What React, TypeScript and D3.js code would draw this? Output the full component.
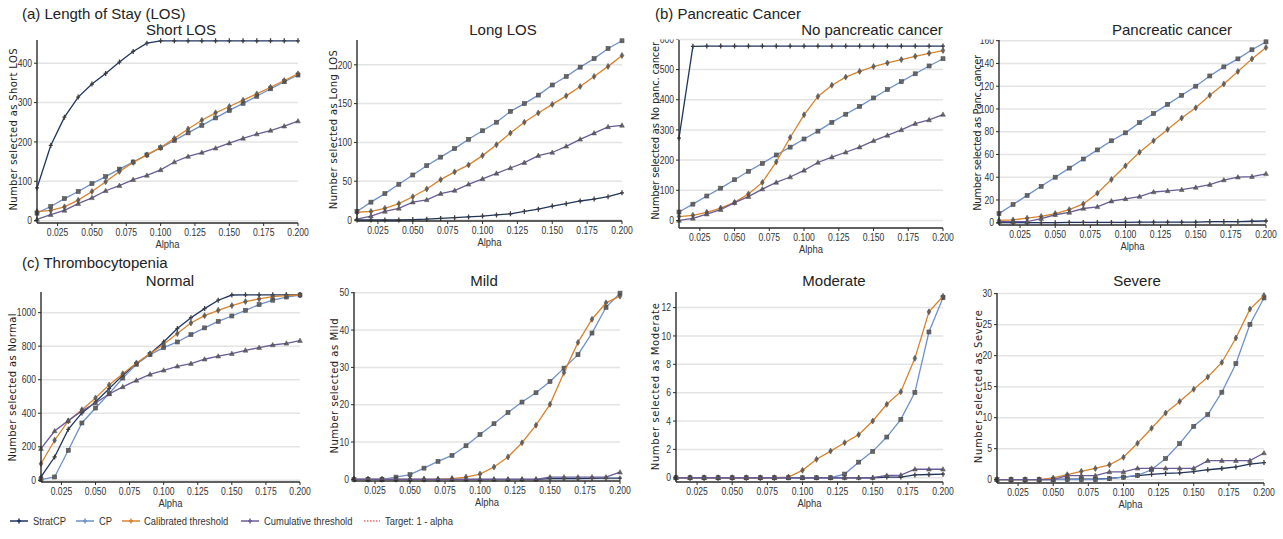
import React from 'react';
import * as d3 from 'd3';

const ALPHA = [0.01, 0.02, 0.03, 0.04, 0.05, 0.06, 0.07, 0.08, 0.09, 0.1, 0.11, 0.12, 0.13, 0.14, 0.15, 0.16, 0.17, 0.18, 0.19, 0.2];
const X_TICKS = [0.025, 0.05, 0.075, 0.1, 0.125, 0.15, 0.175, 0.2];

const SERIES_NAMES = ['StratCP', 'CP', 'Calibrated threshold', 'Cumulative threshold'];
const TARGET_NAME = 'Target: 1 - alpha';

// (a) Length of Stay
const SHORT_STRATCP = [83, 191, 263, 314, 347, 374, 403, 430, 451, 457, 457, 457, 457, 457, 457, 457, 457, 457, 457, 457];
const SHORT_CP = [19, 36, 56, 74, 94, 112, 131, 149, 167, 185, 204, 223, 242, 261, 280, 298, 316, 335, 353, 370];
const SHORT_CAL = [23, 26, 35, 52, 74, 99, 125, 148, 167, 186, 209, 233, 255, 274, 290, 306, 322, 339, 356, 373];
const SHORT_CUM = [3, 15, 26, 43, 58, 76, 89, 104, 115, 129, 149, 163, 173, 184, 197, 209, 220, 229, 240, 253];

const LONG_STRATCP = [0, 0, 0, 0, 0.5, 1, 2, 3, 4, 5, 6.5, 8, 11, 14, 18, 21, 24.5, 27, 30, 35];
const LONG_CP = [11, 23, 34, 46, 58, 70, 81, 92, 104, 115, 126, 140, 150, 161, 174, 185, 197, 208, 221, 231];
const LONG_CAL = [10, 11, 15, 21, 30, 40, 52, 62, 71, 83, 97, 112, 126, 138, 149, 160, 172, 185, 198, 212];
const LONG_CUM = [1, 5, 11, 15, 23, 26, 34, 38, 46, 53, 60, 67, 74, 83, 87, 95, 104, 112, 120, 122];

// (b) Pancreatic cancer
const NOPANC_STRATCP = [273, 577, 578, 578, 578, 578, 578, 578, 578, 578, 578, 578, 578, 578, 578, 578, 578, 578, 578, 578];
const NOPANC_CP = [28, 54, 81, 107, 135, 163, 189, 217, 243, 270, 296, 325, 352, 378, 406, 434, 460, 486, 512, 536];
const NOPANC_CAL = [13, 17, 27, 41, 60, 88, 126, 194, 275, 350, 411, 448, 475, 494, 510, 522, 533, 544, 554, 563];
const NOPANC_CUM = [0, 7, 21, 36, 59, 79, 104, 126, 144, 166, 192, 210, 226, 243, 264, 282, 300, 321, 333, 351];

const PANC_STRATCP = [0, 0, 0, 0, 0, 0.3, 0.3, 0.3, 0.3, 0.3, 0.5, 0.5, 0.5, 0.5, 0.5, 1, 1, 1, 1.3, 1.5];
const PANC_CP = [8, 16, 24, 32, 40, 48, 56, 64, 72, 79, 88, 96, 104, 112, 120, 129, 137, 144, 152, 159];
const PANC_CAL = [2, 2.5, 4, 5.5, 8, 11.5, 16.5, 26, 38, 50, 62, 72, 82, 92, 101, 112, 122, 133, 144, 154];
const PANC_CUM = [1, 1, 1, 3.5, 7, 9, 12.5, 14, 19, 21, 23, 27, 28, 29, 31, 33.5, 37.5, 40, 40.5, 43];

// (c) Thrombocytopenia
const NORMAL_STRATCP = [20, 139, 304, 402, 467, 547, 626, 696, 755, 825, 905, 970, 1024, 1074, 1105, 1106, 1106, 1106, 1106, 1106];
const NORMAL_CP = [4, 20, 179, 342, 431, 517, 610, 692, 750, 791, 825, 869, 909, 948, 980, 1014, 1048, 1074, 1093, 1105];
const NORMAL_CAL = [99, 239, 354, 421, 491, 569, 636, 700, 755, 811, 875, 938, 982, 1014, 1042, 1066, 1082, 1095, 1101, 1105];
const NORMAL_CUM = [189, 294, 356, 414, 461, 515, 557, 596, 632, 656, 680, 696, 722, 740, 755, 775, 791, 807, 817, 833];

const MILD_STRATCP = [0, 0, 0, 0, 0, 0, 0, 0, 0, 0, 0, 0, 0, 0, 0.2, 0.2, 0.2, 0.25, 0.3, 0.3];
const MILD_CP = [0, 0, 0, 0.6, 1.25, 3, 4.8, 6.4, 9, 12, 14.9, 17.9, 20.7, 23.2, 26.2, 29.8, 33.4, 39.2, 46.1, 49.9];
const MILD_CAL = [0, 0, 0, 0, 0, 0, 0, 0.2, 0.6, 1.4, 3.3, 6, 9.8, 14.5, 20.1, 28.6, 36.7, 42.9, 47.3, 49.1];
const MILD_CUM = [0, 0, 0, 0, 0, 0, 0, 0, 0, 0, 0, 0, 0, 0, 0.6, 0.6, 0.6, 0.6, 0.6, 1.9];

const MOD_STRATCP = [0, 0, 0, 0, 0, 0, 0, 0, 0, 0, 0, 0, 0, 0, 0, 0.05, 0.05, 0.2, 0.23, 0.25];
const MOD_CP = [0, 0, 0, 0, 0, 0, 0, 0, 0, 0, 0, 0, 0.26, 1.1, 1.86, 2.87, 4.12, 6.02, 10.28, 12.7];
const MOD_CAL = [0, 0, 0, 0, 0, 0, 0, 0, 0.05, 0.52, 1.3, 1.88, 2.47, 3.04, 4, 5.18, 6.07, 8.42, 11.7, 12.8];
const MOD_CUM = [0, 0, 0, 0, 0, 0, 0, 0, 0, 0, 0, 0, 0, 0, 0, 0.16, 0.18, 0.6, 0.6, 0.6];

const SEV_STRATCP = [0, 0, 0, 0, 0.05, 0.1, 0.1, 0.1, 0.2, 0.4, 0.65, 0.86, 1.0, 1.1, 1.3, 1.6, 1.8, 2.05, 2.5, 2.75];
const SEV_CP = [0, 0, 0, 0, 0, 0, 0, 0, 0.15, 0.4, 0.7, 1.6, 3.4, 5.8, 8.6, 10.5, 14.1, 18.7, 25.05, 29.3];
const SEV_CAL = [0, 0, 0, 0, 0.27, 0.8, 1.35, 1.8, 2.4, 3.6, 5.86, 8.28, 10.75, 12.6, 14.57, 16.56, 18.9, 22.85, 27.5, 29.7];
const SEV_CUM = [0, 0, 0, 0, 0, 0.65, 0.65, 0.65, 1.24, 1.24, 1.83, 1.83, 1.83, 1.83, 1.83, 3.06, 3.06, 3.06, 3.06, 4.3];

const GROUP_TITLES = ['(a) Length of Stay (LOS)', '(b) Pancreatic Cancer', '(c) Thrombocytopenia'];

const PANELS = [
  { title: 'Short LOS', ylabel: 'Number selected as Short LOS', series: [SHORT_STRATCP, SHORT_CP, SHORT_CAL, SHORT_CUM], yDomain: [-6, 459], yTicks: [0, 100, 200, 300, 400] },
  { title: 'Long LOS', ylabel: 'Number selected as Long LOS', series: [LONG_STRATCP, LONG_CP, LONG_CAL, LONG_CUM], yDomain: [-1.3, 232], yTicks: [0, 50, 100, 150, 200] },
  { title: 'No pancreatic cancer', ylabel: 'Number selected as No panc. cancer', series: [NOPANC_STRATCP, NOPANC_CP, NOPANC_CAL, NOPANC_CUM], yDomain: [-25, 598], yTicks: [0, 100, 200, 300, 400, 500, 600] },
  { title: 'Pancreatic cancer', ylabel: 'Number selected as Panc. cancer', series: [PANC_STRATCP, PANC_CP, PANC_CAL, PANC_CUM], yDomain: [-2, 160.6], yTicks: [0, 20, 40, 60, 80, 100, 120, 140, 160] },
  { title: 'Normal', ylabel: 'Number selected as Normal', series: [NORMAL_STRATCP, NORMAL_CP, NORMAL_CAL, NORMAL_CUM], yDomain: [-10, 1123], yTicks: [0, 200, 400, 600, 800, 1000] },
  { title: 'Mild', ylabel: 'Number selected as Mild', series: [MILD_STRATCP, MILD_CP, MILD_CAL, MILD_CUM], yDomain: [-0.45, 50.2], yTicks: [0, 10, 20, 30, 40, 50] },
  { title: 'Moderate', ylabel: 'Number selected as Moderate', series: [MOD_STRATCP, MOD_CP, MOD_CAL, MOD_CUM], yDomain: [-0.3, 13.1], yTicks: [0, 2, 4, 6, 8, 10, 12] },
  { title: 'Severe', ylabel: 'Number selected as Severe', series: [SEV_STRATCP, SEV_CP, SEV_CAL, SEV_CUM], yDomain: [-0.54, 30.1], yTicks: [0, 5, 10, 15, 20, 25, 30] },
];

// layout (pixel positions)
const LAYOUT = [
  { l: 37, r: 298, t: 40, b: 223, tx: 181, ty: 35, labX: 13, labY: 129.5, labLen: 162 },
  { l: 357, r: 622, t: 40, b: 221, tx: 503, ty: 35, labX: 333, labY: 129.7, labLen: 159 },
  { l: 679, r: 943, t: 40, b: 228, tx: 872, ty: 35, labX: 655, labY: 130.8, labLen: 178 },
  { l: 999, r: 1266, t: 40, b: 225, tx: 1172, ty: 35, labX: 977, labY: 132.8, labLen: 156 },
  { l: 41, r: 300, t: 292, b: 482, tx: 170, ty: 286, labX: 12, labY: 387.5, labLen: 148 },
  { l: 354, r: 620, t: 292, b: 481, tx: 484, ty: 286, labX: 334, labY: 386, labLen: 135 },
  { l: 676, r: 943, t: 292, b: 482, tx: 834, ty: 286, labX: 655, labY: 386.7, labLen: 167 },
  { l: 997, r: 1264, t: 293, b: 483, tx: 1137, ty: 286, labX: 978, labY: 386.7, labLen: 153 },
];
const GROUP_POS = [{ x: 22, y: 19 }, { x: 655, y: 19 }, { x: 22, y: 268 }];

const COLORS = ['#1e3560', '#6e90c9', '#d8832c', '#6b5b9b'];
const MARKERS = ['plus', 'square', 'diamond', 'triangle'];
const TARGET_COLOR = '#ef6a6a';

const SANS = "'Liberation Sans', Arial, sans-serif";
const DEJAVU = "'DejaVu Sans', sans-serif";
const NARROW_SCALE = 0.82;

function NarrowText({ x, y, anchor, size, children, dy }: { x: number; y: number; anchor?: string; size: number; children: React.ReactNode; dy?: string }) {
  return (
    <text
      transform={`translate(${x},${y}) scale(${NARROW_SCALE},1)`}
      textAnchor={anchor || 'start'}
      dy={dy}
      fontFamily={SANS}
      fontSize={size}
      fill="#333"
    >
      {children}
    </text>
  );
}

function Marker({ type, x, y }: { type: string; x: number; y: number }) {
  const fill = '#5a5a5a';
  const stroke = '#3c3c3c';
  if (type === 'plus') {
    return <path d={`M${x - 2},${y}H${x + 2}M${x},${y - 2.5}V${y + 2.5}`} stroke={stroke} strokeWidth={1.3} fill="none" />;
  }
  if (type === 'square') {
    return <rect x={x - 2} y={y - 2} width={4} height={4} fill={fill} stroke={stroke} strokeWidth={0.6} opacity={0.9} />;
  }
  if (type === 'diamond') {
    return <path d={`M${x},${y - 3}L${x + 1.8},${y}L${x},${y + 3}L${x - 1.8},${y}Z`} fill={fill} stroke={stroke} strokeWidth={0.6} opacity={0.9} />;
  }
  return <path d={`M${x},${y - 2.6}L${x + 2.4},${y + 1.8}L${x - 2.4},${y + 1.8}Z`} fill={fill} stroke={stroke} strokeWidth={0.5} opacity={0.9} />;
}

function Panel({ idx }: { idx: number }) {
  const p = PANELS[idx];
  const L = LAYOUT[idx];
  const x = d3.scaleLinear().domain([ALPHA[0], ALPHA[ALPHA.length - 1]]).range([L.l, L.r]);
  const y = d3.scaleLinear().domain(p.yDomain).range([L.b, L.t]);
  const line = d3.line<number>().x((_, i) => x(ALPHA[i])).y((d) => y(d));
  const clipId = `clip-top-${idx}`;
  return (
    <g>
      <defs>
        <clipPath id={clipId}>
          <rect x={L.l - 60} y={idx < 4 ? 39.5 : 0} width={L.r - L.l + 80} height={600} />
        </clipPath>
      </defs>
      {p.yTicks.map((t) => (
        <line key={`g${t}`} x1={L.l} x2={L.r} y1={y(t)} y2={y(t)} stroke="#e4e4e4" strokeWidth={1.5} />
      ))}
      {p.series.map((s, si) => (
        <g key={`s${si}`}>
          <path d={line(s) || ''} fill="none" stroke={COLORS[si]} strokeWidth={1.3} />
          {s.map((v, i) => (
            <Marker key={i} type={MARKERS[si]} x={x(ALPHA[i])} y={y(v)} />
          ))}
        </g>
      ))}
      <line x1={L.l} x2={L.l} y1={L.t} y2={L.b} stroke="#2b2b2b" strokeWidth={1.4} />
      <line x1={L.l} x2={L.r} y1={L.b} y2={L.b} stroke="#2b2b2b" strokeWidth={1.4} />
      {p.yTicks.map((t) => (
        <g key={`yt${t}`} clipPath={`url(#${clipId})`}>
          <line x1={L.l - 3} x2={L.l} y1={y(t)} y2={y(t)} stroke="#2b2b2b" strokeWidth={1} />
          <NarrowText x={L.l - 5} y={y(t)} dy="0.35em" anchor="end" size={10.5}>
            {t}
          </NarrowText>
        </g>
      ))}
      {X_TICKS.map((t) => (
        <g key={`xt${t}`}>
          <line x1={x(t)} x2={x(t)} y1={L.b} y2={L.b + 3} stroke="#2b2b2b" strokeWidth={1} />
          <NarrowText x={x(t)} y={L.b + 13} anchor="middle" size={10.5}>
            {d3.format('.3f')(t)}
          </NarrowText>
        </g>
      ))}
      <NarrowText x={(L.l + L.r) / 2} y={L.b + 25} anchor="middle" size={11.5}>
        Alpha
      </NarrowText>
      <text
        transform={`translate(${L.labX},${L.labY}) rotate(-90)`}
        textAnchor="middle"
        dominantBaseline="central"
        fontFamily={DEJAVU}
        fontSize={10}
        fill="#222"
        textLength={L.labLen}
        lengthAdjust="spacing"
      >
        {p.ylabel}
      </text>
      <text x={L.tx} y={L.ty} textAnchor="middle" fontFamily={SANS} fontSize={15} fill="#222">
        {p.title}
      </text>
    </g>
  );
}

function Legend() {
  const items = [
    { x: 10, tx: 33 },
    { x: 76, tx: 99 },
    { x: 122, tx: 144 },
    { x: 241, tx: 264 },
  ];
  const ly = 521;
  return (
    <g>
      {items.map((it, i) => (
        <g key={i}>
          <line x1={it.x} x2={it.x + 18} y1={ly} y2={ly} stroke={COLORS[i]} strokeWidth={1.5} />
          <path d={`M${it.x + 7},${ly}H${it.x + 11}M${it.x + 9},${ly - 2.5}V${ly + 2.5}`} stroke={COLORS[i]} strokeWidth={1.5} />
          <NarrowText x={it.tx} y={ly} dy="0.35em" size={11.5}>
            {SERIES_NAMES[i]}
          </NarrowText>
        </g>
      ))}
      <line x1={364} x2={380} y1={ly} y2={ly} stroke={TARGET_COLOR} strokeWidth={1.3} strokeDasharray="1.5,1.5" />
      <NarrowText x={385} y={ly} dy="0.35em" size={11.5}>
        {TARGET_NAME}
      </NarrowText>
    </g>
  );
}

export default function App() {
  return (
    <svg width={1283} height={539} style={{ position: 'absolute', left: 0, top: 0, background: '#fff' }}>
      <rect x={0} y={0} width={1283} height={539} fill="#fff" />
      {GROUP_TITLES.map((g, i) => (
        <text key={g} x={GROUP_POS[i].x} y={GROUP_POS[i].y} fontFamily={SANS} fontSize={15} fill="#222">
          {g}
        </text>
      ))}
      {PANELS.map((_, i) => (
        <Panel key={i} idx={i} />
      ))}
      <Legend />
    </svg>
  );
}
